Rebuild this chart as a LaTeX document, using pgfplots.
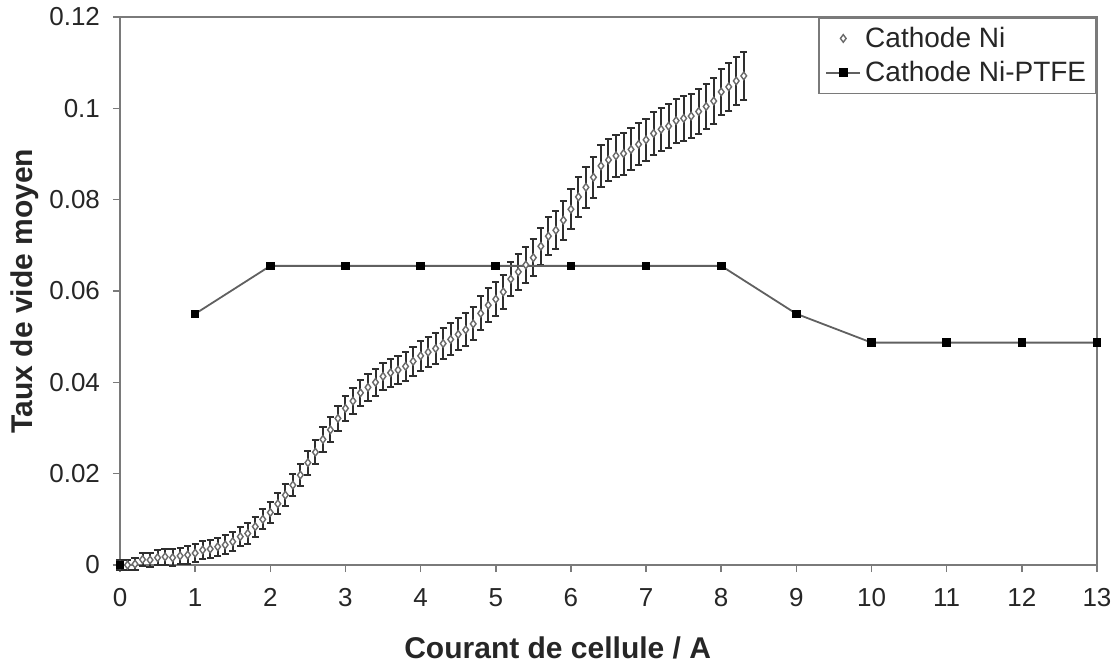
\documentclass[border=0pt]{standalone}
\usepackage{pgfplots}
\pgfplotsset{compat=1.18}
\usepackage{pgfplotstable}
\usepackage{fontspec}
\setmainfont{Liberation Sans}
\definecolor{axgray}{HTML}{7A7A7A}
\definecolor{linegray}{HTML}{606060}
\definecolor{ebar}{HTML}{2E2E2E}
\definecolor{diam}{HTML}{6A6A6A}

\pgfplotstableread{
x y ey
0.0 0.0000 0.0012
0.1 0.0000 0.0012
0.2 0.0002 0.0013
0.3 0.0012 0.0015
0.4 0.0011 0.0016
0.5 0.0016 0.0017
0.6 0.0018 0.0017
0.7 0.0016 0.0018
0.8 0.0020 0.0018
0.9 0.0022 0.0019
1.0 0.0026 0.0019
1.1 0.0033 0.0020
1.2 0.0035 0.0020
1.3 0.0040 0.0020
1.4 0.0044 0.0021
1.5 0.0051 0.0021
1.6 0.0062 0.0021
1.7 0.0069 0.0022
1.8 0.0084 0.0022
1.9 0.0100 0.0022
2.0 0.0115 0.0023
2.1 0.0134 0.0023
2.2 0.0153 0.0024
2.3 0.0175 0.0024
2.4 0.0197 0.0025
2.5 0.0224 0.0026
2.6 0.0247 0.0026
2.7 0.0275 0.0027
2.8 0.0296 0.0027
2.9 0.0321 0.0028
3.0 0.0343 0.0028
3.1 0.0359 0.0029
3.2 0.0377 0.0029
3.3 0.0389 0.0029
3.4 0.0400 0.0030
3.5 0.0413 0.0030
3.6 0.0421 0.0031
3.7 0.0427 0.0031
3.8 0.0435 0.0032
3.9 0.0446 0.0032
4.0 0.0458 0.0033
4.1 0.0466 0.0033
4.2 0.0474 0.0034
4.3 0.0485 0.0034
4.4 0.0494 0.0035
4.5 0.0505 0.0035
4.6 0.0515 0.0036
4.7 0.0528 0.0036
4.8 0.0551 0.0037
4.9 0.0569 0.0037
5.0 0.0582 0.0037
5.1 0.0598 0.0038
5.2 0.0626 0.0038
5.3 0.0642 0.0039
5.4 0.0657 0.0039
5.5 0.0673 0.0040
5.6 0.0698 0.0041
5.7 0.0720 0.0041
5.8 0.0733 0.0042
5.9 0.0755 0.0043
6.0 0.0779 0.0044
6.1 0.0806 0.0044
6.2 0.0827 0.0045
6.3 0.0849 0.0045
6.4 0.0874 0.0046
6.5 0.0887 0.0046
6.6 0.0896 0.0046
6.7 0.0901 0.0046
6.8 0.0910 0.0046
6.9 0.0921 0.0046
7.0 0.0931 0.0046
7.1 0.0945 0.0047
7.2 0.0954 0.0047
7.3 0.0961 0.0048
7.4 0.0973 0.0048
7.5 0.0978 0.0049
7.6 0.0983 0.0049
7.7 0.0993 0.0050
7.8 0.1004 0.0050
7.9 0.1016 0.0051
8.0 0.1036 0.0051
8.1 0.1047 0.0052
8.2 0.1060 0.0052
8.3 0.1071 0.0053
}\niData

\pgfplotstableread{
x y
1 0.0550
2 0.0655
3 0.0655
4 0.0655
5 0.0655
6 0.0655
7 0.0655
8 0.0655
9 0.0550
10 0.0487
11 0.0487
12 0.0487
13 0.0487
}\ptfeData

\begin{document}
\begin{tikzpicture}
\begin{axis}[
  scale only axis,
  width=488.5pt, height=274pt,
  xmin=0, xmax=13, ymin=0, ymax=0.12,
  xtick={0,1,...,13},
  ytick={0,0.02,0.04,0.06,0.08,0.1,0.12},
  scaled y ticks=false,
  yticklabel style={/pgf/number format/fixed,/pgf/number format/precision=2},
  /pgf/number format/assume math mode=true,
  tick label style={font=\fontsize{13}{15}\selectfont, text=black!85},
  xticklabel style={yshift=-4pt, text height=9.5pt, text depth=0pt},
  yticklabel style={xshift=-3pt},
  axis line style={axgray, line width=1pt},
  tick style={axgray, line width=0.8pt},
  major tick length=3.5pt,
  tick align=outside,
  xtick pos=bottom, ytick pos=left,
  clip=false,
  xlabel={\bfseries Courant de cellule / A},
  ylabel={\bfseries Taux de vide moyen},
  label style={font=\fontsize{15}{17}\selectfont, text=black!85},
  xlabel style={at={(axis description cs:0.448,-0.151)}, anchor=center},
  ylabel style={at={(axis description cs:-0.097,0.5)}, anchor=center},
  legend style={at={(rel axis cs:1,1)}, anchor=north east, draw=axgray, line width=0.8pt,
    font=\fontsize{14}{16}\selectfont, text=black!85, inner xsep=3pt, inner ysep=2.5pt,
    row sep=1.5pt, cells={anchor=west}},
  legend cell align=left,
]
\addplot[only marks, mark=diamond*, mark size=1.9pt,
  mark options={draw=diam, fill=white, line width=0.7pt},
  error bars/.cd, y dir=both, y explicit,
  error bar style={ebar, line width=1pt},
  error mark options={rotate=90, mark size=1.8pt, ebar, line width=1pt}]
  table[x=x, y=y, y error=ey] {\niData};
\addlegendentry{Cathode Ni}
\addplot[linegray, line width=0.9pt, mark=square*, mark size=1.7pt,
  mark options={black, fill=black}]
  table[x=x, y=y] {\ptfeData};
\addlegendentry{Cathode Ni-PTFE}
\addplot[only marks, mark=square*, mark size=1.7pt, mark options={black, fill=black}, forget plot]
  coordinates {(0,0)};
\end{axis}
\pgfresetboundingbox
\useasboundingbox (-60pt,-52.5pt) rectangle (498pt,282.5pt);
\end{tikzpicture}
\end{document}
